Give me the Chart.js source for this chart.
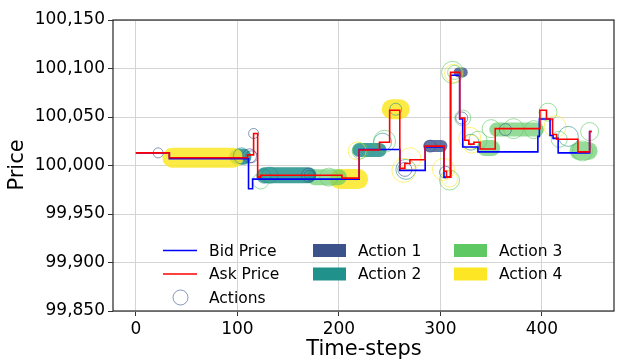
<!DOCTYPE html>
<html>
<head>
<meta charset="utf-8">
<script src="https://cdn.jsdelivr.net/npm/chart.js@4.4.0/dist/chart.umd.min.js"></script>
<style>
  body { margin: 0; background: #fff; }
  #wrap { width: 618px; height: 363px; }
</style>
</head>
<body>
<div id="wrap"><canvas id="priceChart" width="618" height="363"></canvas></div>
<script>
// Bid / ask price steps (time-step where the price changes, new price)
const askT = [0, 33, 110, 116, 120, 123, 203, 220, 240, 250, 260, 265, 270, 285, 303.5, 306, 310, 319, 324, 328, 333, 339, 354, 398, 404.5, 410.5, 414.5, 435.5, 447, 449];
const askP = [100013, 100008, 100011, 100033, 99988, 99990, 99987, 100016, 100024, 100057, 99997, 100002, 100006, 100020, 99994, 99988, 100096, 100049, 100026, 100022, 100024, 100017, 100038, 100057, 100048, 100032, 100027, 100014, 100035, 100035];
const bidT = [0, 33, 111, 115, 220, 260, 285, 303.5, 310, 319, 322, 337, 396, 397.5, 408, 411, 416, 447, 449];
const bidP = [100013, 100007, 99976, 99986, 100016.5, 99995, 100019, 99988, 100093, 100048, 100019, 100014, 100030, 100048, 100031, 100028, 100013, 100035, 100035];

// Runs of the same action held over consecutive time-steps
const runStart = [36, 100, 127, 176, 201, 220, 252, 289, 318, 344, 355, 436];
const runEnd = [96, 106, 170, 200, 219, 240, 260, 301, 322, 351, 395, 446];
const runPrice = [100008, 100009, 99990, 99988, 99986, 100016, 100058, 100020, 100096, 100018, 100037, 100015];
const runAction = [4, 2, 2, 3, 4, 2, 4, 1, 1, 3, 3, 3];
const runSize = [20, 16, 16, 16, 20, 14, 20, 12, 10, 16, 14, 18];

// Single actions
const actT = [22, 104, 112, 114, 116, 123, 126, 132, 170, 171, 190, 218, 221, 243, 245, 256, 265, 266, 264, 270, 290, 303, 305, 309, 309, 312, 313, 314, 322, 321, 329, 330, 337, 331, 350, 364, 372, 392, 406, 413, 417, 426, 447, 440];
const actP = [100013, 100010, 100010, 100009, 100033, 99984, 99989, 99990, 99990, 99990, 99988, 100015, 100015, 100024, 100025, 100058, 99996, 99996, 99995, 100007, 100020, 99996, 99993, 99985, 99986, 100096, 100095, 100096, 100049, 100049, 100028, 100024, 100026, 100022, 100038, 100037, 100038, 100037, 100055, 100040, 100027, 100030, 100035, 100015];
const actA = [1, 2, 1, 1, 1, 3, 2, 2, 1, 1, 3, 4, 3, 2, 3, 2, 1, 2, 4, 4, 1, 4, 1, 3, 4, 3, 4, 3, 3, 1, 4, 2, 3, 4, 3, 1, 3, 3, 3, 4, 3, 2, 3, 3];
const actSize = [5, 8, 7, 6, 5, 8, 7, 8, 7, 5, 9, 9, 8, 9, 11, 6, 7, 10, 12, 11, 6, 11, 6, 10, 8, 11, 9, 7, 8, 6, 11, 8, 9, 9, 9, 6, 10, 9, 9, 11, 8, 10, 9, 10];

const xTicks = [0, 100, 200, 300, 400];
const yTicks = [99850, 99900, 99950, 100000, 100050, 100100, 100150];
const actionNames = ['Action 1', 'Action 2', 'Action 3', 'Action 4'];
const actionColors = ['#3b528b', '#21918c', '#5ec962', '#fde725'];

function rgba(hex, a) {
    const n = parseInt(hex.slice(1), 16);
    return 'rgba(' + (n >> 16) + ',' + ((n >> 8) & 255) + ',' + (n & 255) + ',' + a + ')';
}
const runAlpha = [0.8, 0.85, 0.65, 0.85];
const FONT = 'DejaVu Sans';

const datasets = [
    {
        label: 'Ask Price',
        data: askT.map((t, i) => ({ x: t, y: askP[i] })),
        borderColor: '#ff0000', borderWidth: 1.6, stepped: 'before', pointRadius: 0, fill: false
    },
    {
        label: 'Bid Price',
        data: bidT.map((t, i) => ({ x: t, y: bidP[i] })),
        borderColor: '#0000ff', borderWidth: 1.6, stepped: 'before', pointRadius: 0, fill: false
    },
    {
        label: 'Actions',
        data: actT.map((t, i) => ({ x: t, y: actP[i] })),
        showLine: false,
        pointRadius: actSize,
        pointBorderWidth: 1,
        pointBackgroundColor: 'rgba(0,0,0,0)',
        pointBorderColor: actA.map(a => rgba(actionColors[a - 1], 0.6))
    }
];
runStart.forEach((t0, i) => {
    const a = runAction[i] - 1;
    datasets.push({
        label: 'run' + i,
        data: [{ x: t0, y: runPrice[i] }, { x: runEnd[i], y: runPrice[i] }],
        borderColor: rgba(actionColors[a], runAlpha[a]),
        borderWidth: runSize[i],
        borderCapStyle: 'round',
        pointRadius: 0,
        fill: false
    });
});

// spines, axis titles and the legend inside the plot
const extras = {
    id: 'extras',
    afterDraw(chart) {
        const c = chart.ctx, a = chart.chartArea;
        c.save();
        c.strokeStyle = '#262626';
        c.lineWidth = 1.2;
        c.strokeRect(a.left, a.top, a.right - a.left, a.bottom - a.top);

        c.fillStyle = '#000';
        c.font = '21px "' + FONT + '"';
        c.textAlign = 'center';
        c.textBaseline = 'alphabetic';
        c.fillText('Time-steps', 364, 355);
        c.save();
        c.translate(23, 165);
        c.rotate(-Math.PI / 2);
        c.fillText('Price', 0, 0);
        c.restore();

        // legend
        c.font = '15.5px "' + FONT + '"';
        c.textAlign = 'left';
        c.textBaseline = 'middle';
        const rows = [250.5, 274, 297.5];
        c.lineWidth = 1.5;
        c.strokeStyle = '#0000ff';
        c.beginPath(); c.moveTo(163, rows[0]); c.lineTo(197, rows[0]); c.stroke();
        c.strokeStyle = '#ff0000';
        c.beginPath(); c.moveTo(163, rows[1]); c.lineTo(197, rows[1]); c.stroke();
        c.strokeStyle = rgba(actionColors[0], 0.6);
        c.lineWidth = 1;
        c.beginPath(); c.arc(180.5, rows[2], 7.5, 0, Math.PI * 2); c.stroke();
        c.fillStyle = '#000';
        c.fillText('Bid Price', 209, rows[0] + 1);
        c.fillText('Ask Price', 209, rows[1] + 1);
        c.fillText('Actions', 209, rows[2] + 1);
        const cols = [[313, 358], [313, 358], [454, 499], [454, 499]];
        actionNames.forEach((name, i) => {
            const y = rows[i % 2];
            c.fillStyle = actionColors[i];
            c.fillRect(cols[i][0], y - 6.5, 33, 13);
            c.fillStyle = '#000';
            c.fillText(name, cols[i][1], y + 1);
        });
        c.restore();
    }
};

const tickFont = { family: FONT, size: 17 };
new Chart(document.getElementById('priceChart'), {
    type: 'line',
    data: { datasets: datasets },
    options: {
        responsive: false,
        animation: false,
        layout: { autoPadding: false, padding: { top: 20, right: 4, left: 0, bottom: 0 } },
        plugins: { legend: { display: false }, tooltip: { enabled: false } },
        scales: {
            x: {
                type: 'linear', min: -22.5, max: 471,
                afterBuildTicks: s => { s.ticks = xTicks.map(v => ({ value: v })); },
                afterFit: s => { s.height = 52; s.paddingLeft = 0; s.paddingRight = 0; },
                border: { display: false },
                grid: { color: '#d4d4d4', lineWidth: 1, tickColor: '#333', tickLength: 5 },
                ticks: { font: tickFont, color: '#000', padding: 3, maxRotation: 0, callback: v => String(v) }
            },
            y: {
                type: 'linear', min: 99850, max: 100150,
                afterBuildTicks: s => { s.ticks = yTicks.map(v => ({ value: v })); },
                afterFit: s => { s.width = 113; s.paddingTop = 0; s.paddingBottom = 0; },
                border: { display: false },
                grid: { color: '#d4d4d4', lineWidth: 1, tickColor: '#333', tickLength: 5 },
                ticks: { font: tickFont, color: '#000', padding: 3, callback: v => v.toLocaleString('en-US') }
            }
        }
    },
    plugins: [extras]
});
</script>
</body>
</html>
